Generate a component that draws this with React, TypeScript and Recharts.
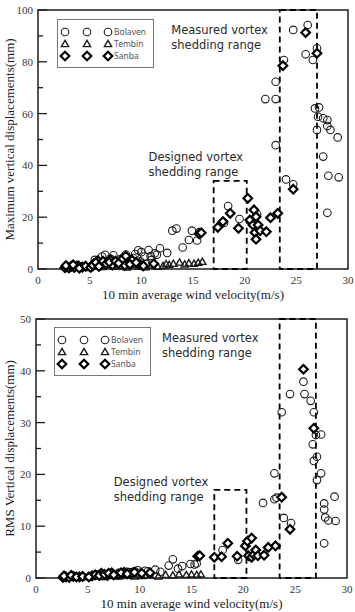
import React from "react";
import {
  ScatterChart,
  Scatter,
  XAxis,
  YAxis,
  ReferenceArea,
  ReferenceDot,
  Legend,
} from "recharts";

// ---- shared axis / legend text ----
const seriesNames = ["Bolaven", "Tembin", "Sanba"];
const xTicks = [0, 5, 10, 15, 20, 25, 30];
const xTitle = "10 min average wind velocity(m/s)";

// ---- top panel: maximum vertical displacements (m/s, mm) ----
const maxYTicks = [0, 10, 20, 30, 40, 50, 60, 70, 80, 90, 100];
const maxBolaven = [
  [3.0, 0.5], [4.2, 1.0], [5.5, 3.5], [5.8, 2.0], [6.0, 1.0], [6.2, 4.8], [6.5, 5.5],
  [6.8, 3.0], [7.0, 4.0], [7.3, 5.3], [7.6, 2.5], [8.0, 3.8], [8.3, 4.5], [8.5, 5.6],
  [8.8, 2.8], [9.0, 1.5], [9.2, 4.2], [9.4, 5.8], [9.7, 7.2], [10.0, 6.5], [10.3, 4.8],
  [10.5, 2.0], [10.7, 7.3], [11.0, 3.5], [11.3, 6.0], [11.5, 5.5], [11.8, 8.0],
  [12.5, 6.2], [13.0, 14.8], [13.4, 15.6], [14.0, 8.3], [14.6, 11.2], [14.9, 14.8],
  [15.4, 11.0], [15.6, 14.2], [18.0, 17.8], [18.4, 24.3], [19.5, 19.3], [21.2, 21.0],
  [22.0, 65.6], [23.0, 65.6], [23.0, 72.3], [23.0, 47.8], [23.8, 80.7], [24.0, 34.6],
  [24.7, 32.7], [24.7, 92.3], [25.9, 82.9], [26.1, 94.2], [26.6, 80.7], [27.0, 85.2],
  [26.8, 62.0], [27.2, 62.4], [27.1, 58.8], [27.0, 53.7], [27.6, 58.2], [28.0, 57.5],
  [28.0, 55.2], [28.3, 53.7], [29.0, 50.8], [27.6, 43.4], [28.1, 36.0], [29.1, 35.4],
  [28.0, 21.7], [7.9, 1.2], [8.7, 3.2], [9.9, 3.0], [10.9, 5.0],
];
const maxTembin = [
  [2.8, 0.5], [3.3, 0.8], [3.7, 1.5], [4.2, 0.6], [5.0, 0.4], [5.6, 1.0], [6.2, 0.8],
  [6.8, 1.5], [7.4, 0.9], [8.0, 1.2], [8.6, 0.6], [9.2, 1.8], [9.8, 1.0], [10.4, 0.7],
  [11.0, 1.4], [11.6, 0.9], [12.1, 1.2], [12.4, 1.9], [12.7, 1.6], [13.1, 2.0],
  [13.7, 2.5], [14.2, 1.8], [14.6, 2.2], [15.1, 2.0], [15.5, 2.4], [15.9, 2.8],
];
const maxSanba = [
  [2.6, 0.5], [2.8, 0.8], [3.0, 0.4], [3.2, 1.0], [3.5, 0.6], [3.9, 1.2], [4.3, 0.7],
  [2.7, 1.3], [3.4, 1.6], [4.0, 0.3], [4.6, 1.1], [5.1, 0.6], [5.4, 2.0], [5.8, 3.2],
  [5.3, 1.5], [5.6, 2.5], [5.9, 1.0], [6.3, 3.0], [6.6, 2.0], [7.0, 3.5], [7.2, 1.5],
  [6.9, 2.6], [7.5, 3.0], [8.0, 2.8], [8.4, 1.4], [9.1, 3.4], [9.8, 2.0],
  [7.8, 2.2], [8.2, 4.0], [8.5, 5.0], [8.9, 1.8], [9.5, 2.5], [10.2, 1.2], [11.2, 2.0],
  [15.6, 13.6], [15.8, 14.0], [17.4, 16.1], [17.9, 18.3], [18.6, 21.5], [19.4, 15.7],
  [20.3, 27.3], [20.5, 18.9], [20.8, 17.0], [20.9, 22.8], [21.0, 14.1], [21.1, 11.5],
  [21.1, 20.2], [21.3, 17.0], [21.5, 14.8], [22.1, 14.4], [22.5, 19.8], [23.2, 21.5],
  [23.7, 78.5], [24.7, 30.8], [25.9, 91.3], [27.0, 83.3],
];
const maxDesigned = [17.0, 20.2, 34];
const maxMeasured = [23.4, 27.0];
const maxDesignedNote = [10.7, 41.7];
const maxMeasuredNote = [12.9, 90.7];

// ---- bottom panel: RMS vertical displacements (m/s, mm) ----
const rmsYTicks = [0, 5, 10, 15, 20, 25, 30, 35, 40, 45, 50];
const rmsBolaven = [
  [2.8, 0.2], [3.5, 0.3], [4.5, 0.2], [5.5, 0.5], [6.0, 0.7], [6.5, 0.4], [7.0, 0.8],
  [7.5, 0.6], [8.0, 1.0], [8.5, 0.8], [9.0, 1.1], [9.5, 1.3], [10.0, 1.0], [10.5, 1.4],
  [11.0, 0.9], [11.5, 1.6], [12.0, 1.2], [12.8, 2.4], [13.2, 3.6], [13.7, 1.8],
  [14.1, 2.3], [14.9, 2.7], [15.3, 2.6], [15.5, 2.8], [18.0, 5.4], [19.5, 3.5],
  [21.9, 14.5], [23.0, 20.2], [23.0, 15.2], [23.2, 15.5], [23.7, 32.0], [23.9, 11.6],
  [24.5, 35.5], [24.6, 10.6], [25.8, 37.9], [25.9, 35.5], [26.5, 34.2], [26.8, 32.0],
  [26.7, 25.8], [27.0, 27.6], [27.5, 27.7], [26.8, 22.6], [27.1, 23.4], [27.5, 20.2],
  [27.1, 18.9], [27.8, 14.4], [27.8, 13.2], [27.9, 11.7], [28.2, 11.1], [28.8, 15.7],
  [28.9, 11.0], [27.8, 6.7], [8.8, 1.2], [9.8, 1.5], [10.8, 1.3],
];
const rmsTembin = [
  [2.8, 0.1], [3.4, 0.2], [4.0, 0.1], [5.0, 0.2], [5.8, 0.3], [6.5, 0.2], [7.2, 0.4],
  [8.0, 0.3], [8.8, 0.5], [9.5, 0.3], [10.2, 0.4], [11.0, 0.5], [11.8, 0.3], [12.5, 0.6],
  [13.2, 0.5], [13.8, 0.7], [14.5, 0.6], [15.0, 0.7], [15.5, 0.6], [15.9, 0.7],
];
const rmsSanba = [
  [2.6, 0.1], [2.9, 0.2], [3.2, 0.1], [3.6, 0.3], [4.2, 0.2], [5.4, 0.4], [5.7, 0.6],
  [2.7, 0.4], [3.4, 0.5], [3.9, 0.2], [4.5, 0.3], [5.1, 0.2], [6.3, 0.9], [6.9, 0.5],
  [7.3, 1.0], [7.9, 0.7], [8.5, 1.1], [9.2, 0.9],
  [6.1, 0.5], [6.6, 0.7], [7.0, 0.9], [7.5, 0.6], [8.2, 1.0], [8.8, 0.8], [9.5, 1.1],
  [10.2, 0.9], [11.0, 1.0], [15.6, 4.2], [15.8, 4.3], [17.2, 4.0], [17.9, 4.1],
  [18.5, 6.7], [19.4, 4.2], [20.2, 6.2], [20.4, 7.1], [20.8, 7.7], [20.5, 4.3],
  [20.8, 4.0], [21.0, 4.5], [21.2, 5.4], [21.4, 4.3], [22.0, 4.4], [22.4, 5.9],
  [23.1, 6.2], [23.7, 15.6], [24.5, 9.4], [25.8, 40.3], [26.8, 28.9],
];
const rmsDesigned = [17.2, 20.3, 17];
const rmsMeasured = [23.5, 27.0];
const rmsDesignedNote = [7.5, 17.8];
const rmsMeasuredNote = [12.15, 45.6];

const SERIF = '"Liberation Serif", "Times New Roman", serif';
const SANS = '"Noto Sans", "Open Sans", sans-serif';
const NOTE = '"DejaVu Sans", sans-serif';
const INK = "#1c1c1c";

const toPts = (a: number[][]) => a.map(([x, y]) => ({ x, y }));

// marker shapes
const circleShape = (p: any) => (
  <circle cx={p.cx} cy={p.cy} r={3.8} fill="none" stroke={INK} strokeWidth={1.1} />
);
const triangleShape = (p: any) => (
  <path
    d={`M${p.cx},${p.cy - 3.6} L${p.cx + 3.6},${p.cy + 2.6} L${p.cx - 3.6},${p.cy + 2.6} Z`}
    fill="none"
    stroke={INK}
    strokeWidth={1.4}
  />
);
const diamondShape = (p: any) => (
  <path
    d={`M${p.cx},${p.cy - 4.3} L${p.cx + 4.3},${p.cy} L${p.cx},${p.cy + 4.3} L${p.cx - 4.3},${p.cy} Z`}
    fill="#fff"
    stroke="#000"
    strokeWidth={2.2}
  />
);
const legendShapes = [circleShape, triangleShape, diamondShape];

const makeYTick = (major: number) => (props: any) => {
  const { x, y, payload } = props;
  const v = payload.value;
  const isMajor = v % major === 0;
  return (
    <g>
      <line x1={x} x2={x + (isMajor ? 9 : 5)} y1={y} y2={y} stroke={INK} strokeWidth={1.3} />
      {isMajor && (
        <text x={x - 5} y={y} dy={4} textAnchor="end" fontFamily={SERIF} fontSize={11} fill="#333">
          {v}
        </text>
      )}
    </g>
  );
};

const xTick = (props: any) => {
  const { x, y, payload } = props;
  return (
    <text x={x} y={y + 15} textAnchor="middle" fontFamily={SERIF} fontSize={11} fill="#333">
      {payload.value}
    </text>
  );
};

// two-line note, each line its own text element
const noteLabel = (lines: string[]) => (props: any) => {
  const vb = props.viewBox;
  const x = vb.x + vb.width / 2;
  const y = vb.y + vb.height / 2;
  return (
    <g>
      {lines.map((l, i) => (
        <text key={i} x={x} y={y + i * 15} fontFamily={NOTE} fontSize={11.5} fill="#2a2a2a">
          {l}
        </text>
      ))}
    </g>
  );
};

function LegendBox() {
  return (
    <svg width={97} height={49} style={{ display: "block" }}>
      <rect x={0.5} y={0.5} width={96} height={48} fill="#fff" stroke="#777" strokeWidth={1} />
      {seriesNames.map((name, i) => {
        const cy = 13 + i * 12;
        const Shape = legendShapes[i];
        return (
          <g key={name}>
            {[8, 30, 51].map((cx) => (
              <g key={cx}>{Shape({ cx, cy })}</g>
            ))}
            <text x={57} y={cy + 3} fontFamily={SANS} fontSize={8.5} fill="#555">
              {name}
            </text>
          </g>
        );
      })}
    </svg>
  );
}

interface PanelProps {
  bolaven: number[][];
  tembin: number[][];
  sanba: number[][];
  yMax: number;
  yTicks: number[];
  yMajor: number;
  yTitle: string;
  designed: number[];
  measured: number[];
  designedNote: number[];
  measuredNote: number[];
  height: number;
  top: number;
  right: number;
  yWidth: number;
  xHeight: number;
  legendPos: { left: number; top: number };
}

function Panel(p: PanelProps) {
  return (
    <ScatterChart
      width={355}
      height={p.height}
      margin={{ top: p.top, right: p.right, bottom: 0, left: 0 }}
    >
      <XAxis
        type="number"
        dataKey="x"
        domain={[0, 30]}
        ticks={xTicks}
        interval={0}
        axisLine={false}
        tickLine={false}
        tickSize={0}
        tickMargin={0}
        tick={xTick}
        height={p.xHeight}
        label={(lp: any) => {
          const vb = lp.viewBox;
          return (
            <text
              x={vb.x + vb.width / 2}
              y={vb.y + 30}
              textAnchor="middle"
              fontFamily={SERIF}
              fontSize={13}
              fill="#222"
            >
              {xTitle}
            </text>
          );
        }}
      />
      <YAxis
        type="number"
        dataKey="y"
        domain={[0, p.yMax]}
        ticks={p.yTicks}
        interval={0}
        axisLine={false}
        tickLine={false}
        tickSize={0}
        tickMargin={0}
        tick={makeYTick(p.yMajor)}
        width={p.yWidth}
        label={(lp: any) => {
          const vb = lp.viewBox;
          const cx = vb.x + 9;
          const cy = vb.y + vb.height / 2;
          return (
            <text
              x={cx}
              y={cy}
              transform={`rotate(-90, ${cx}, ${cy})`}
              textAnchor="middle"
              dominantBaseline="central"
              fontFamily={SERIF}
              fontSize={13}
              fill="#222"
            >
              {p.yTitle}
            </text>
          );
        }}
      />
      <ReferenceArea
        x1={0}
        x2={30}
        y1={0}
        y2={p.yMax}
        fill="none"
        stroke={INK}
        strokeWidth={1.5}
        ifOverflow="visible"
      />
      <ReferenceArea
        x1={p.designed[0]}
        x2={p.designed[1]}
        y1={0}
        y2={p.designed[2]}
        fill="none"
        stroke="#000"
        strokeWidth={1.8}
        strokeDasharray="6 4"
        ifOverflow="visible"
      />
      <ReferenceArea
        x1={p.measured[0]}
        x2={p.measured[1]}
        y1={0}
        y2={p.yMax}
        fill="none"
        stroke="#000"
        strokeWidth={1.8}
        strokeDasharray="6 4"
        ifOverflow="visible"
      />
      <ReferenceDot
        x={p.measuredNote[0]}
        y={p.measuredNote[1]}
        r={0}
        fill="none"
        stroke="none"
        label={noteLabel(["Measured vortex", "shedding range"])}
      />
      <ReferenceDot
        x={p.designedNote[0]}
        y={p.designedNote[1]}
        r={0}
        fill="none"
        stroke="none"
        label={noteLabel(["Designed vortex", "shedding range"])}
      />
      <Scatter
        name={seriesNames[0]}
        data={toPts(p.bolaven)}
        shape={circleShape}
        isAnimationActive={false}
      />
      <Scatter
        name={seriesNames[1]}
        data={toPts(p.tembin)}
        shape={triangleShape}
        isAnimationActive={false}
      />
      <Scatter
        name={seriesNames[2]}
        data={toPts(p.sanba)}
        shape={diamondShape}
        isAnimationActive={false}
      />
      <Legend
        layout="vertical"
        align="center"
        verticalAlign="middle"
        content={() => <LegendBox />}
        wrapperStyle={{ left: p.legendPos.left, top: p.legendPos.top, width: 97, height: 49 }}
      />
    </ScatterChart>
  );
}

export default function App() {
  return (
    <div
      style={{
        position: "absolute",
        left: 0,
        top: 0,
        width: 355,
        height: 612,
        background: "#fff",
      }}
    >
      <Panel
        bolaven={maxBolaven}
        tembin={maxTembin}
        sanba={maxSanba}
        yMax={100}
        yTicks={maxYTicks}
        yMajor={20}
        yTitle="Maximum vertical displacements(mm)"
        designed={maxDesigned}
        measured={maxMeasured}
        designedNote={maxDesignedNote}
        measuredNote={maxMeasuredNote}
        height={305}
        top={10}
        right={7}
        yWidth={38}
        xHeight={36}
        legendPos={{ left: 57, top: 19 }}
      />
      <Panel
        bolaven={rmsBolaven}
        tembin={rmsTembin}
        sanba={rmsSanba}
        yMax={50}
        yTicks={rmsYTicks}
        yMajor={10}
        yTitle="RMS Vertical displacements(mm)"
        designed={rmsDesigned}
        measured={rmsMeasured}
        designedNote={rmsDesignedNote}
        measuredNote={rmsMeasuredNote}
        height={307}
        top={14}
        right={8}
        yWidth={36}
        xHeight={34}
        legendPos={{ left: 54, top: 22 }}
      />
    </div>
  );
}
